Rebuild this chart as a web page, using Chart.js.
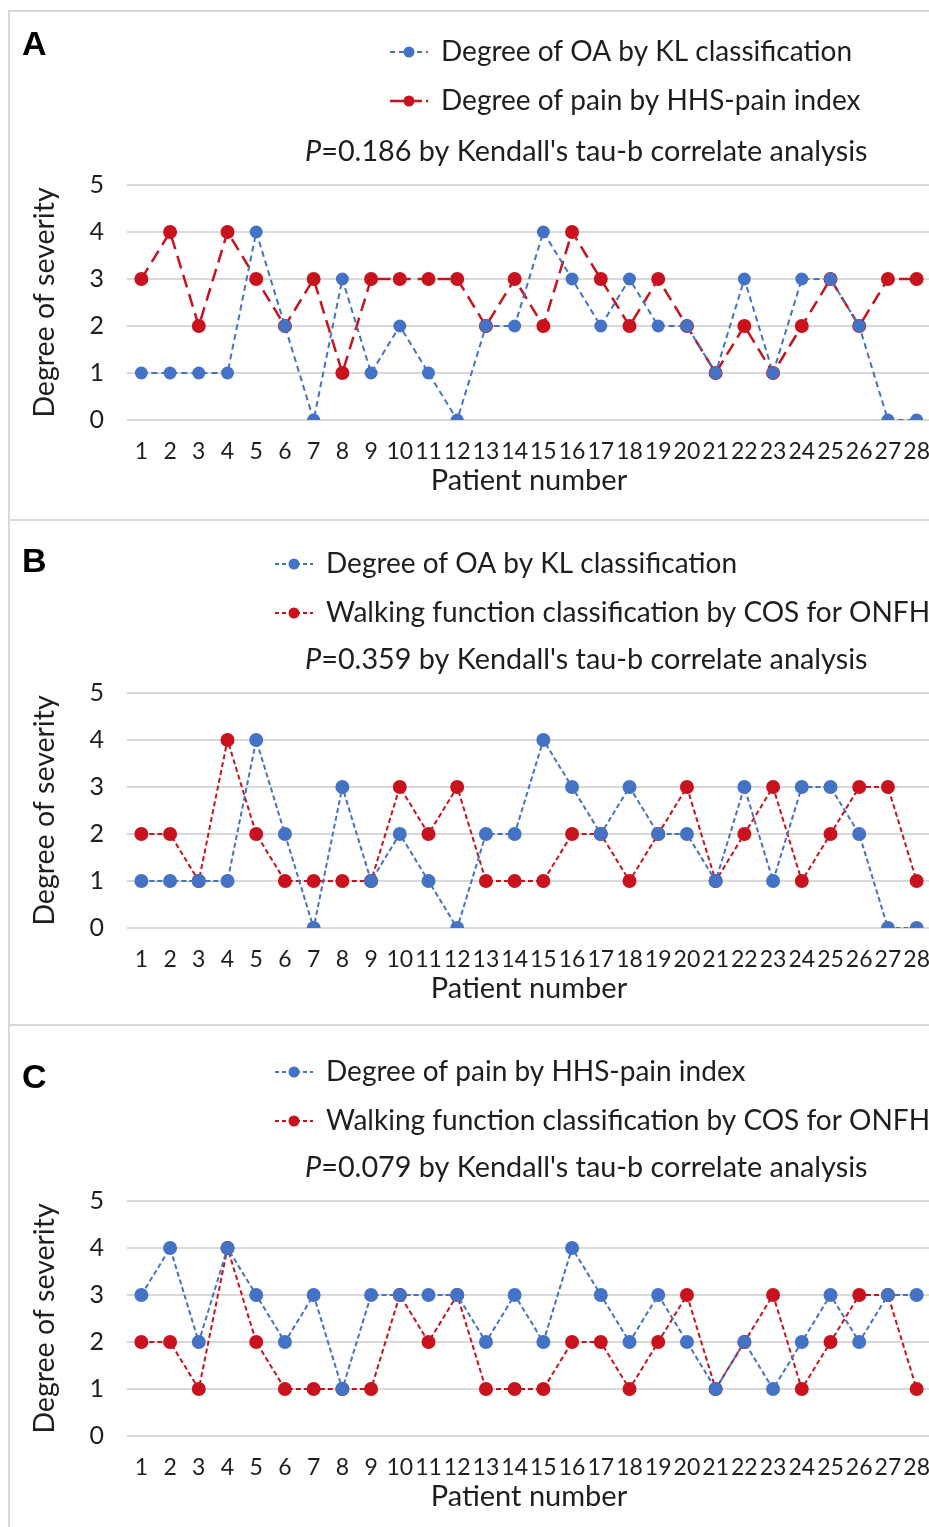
<!DOCTYPE html>
<html><head><meta charset="utf-8">
<script src="https://cdn.jsdelivr.net/npm/chart.js@4.4.1/dist/chart.umd.min.js"></script>
<style>
html,body{margin:0;padding:0;background:#fff;}
#wrap{position:relative;width:929px;height:1527px;overflow:hidden;background:#fff;}
.panel{position:absolute;left:0;width:929px;overflow:hidden;}
.panel canvas{position:absolute;left:0;top:0;}
.frame{position:absolute;background:#d9d9d9;}
</style></head><body>
<div id="wrap">
  <div class="panel" style="top:0;height:520px"><canvas id="cA" width="938" height="520"></canvas></div>
  <div class="panel" style="top:520px;height:506px"><canvas id="cB" width="938" height="506"></canvas></div>
  <div class="panel" style="top:1026px;height:501px"><canvas id="cC" width="938" height="501"></canvas></div>
  <div class="frame" style="left:8px;top:10px;width:2px;height:1517px"></div>
  <div class="frame" style="left:8px;top:10px;width:921px;height:2px"></div>
  <div class="frame" style="left:8px;top:519px;width:921px;height:2px"></div>
  <div class="frame" style="left:8px;top:1024px;width:921px;height:2px"></div>
</div>
<script>
// ---- data ----
const patients = ['1','2','3','4','5','6','7','8','9','10','11','12','13','14','15','16','17','18','19','20','21','22','23','24','25','26','27','28'];
const klGrade    = [1,1,1,1,4,2,0,3,1,2,1,0,2,2,4,3,2,3,2,2,1,3,1,3,3,2,0,0];
const hhsPain    = [3,4,2,4,3,2,3,1,3,3,3,3,2,3,2,4,3,2,3,2,1,2,1,2,3,2,3,3];
const cosWalking = [2,2,1,4,2,1,1,1,1,3,2,3,1,1,1,2,2,1,2,3,1,2,3,1,2,3,3,1];
const yTickMin = 0, yTickMax = 5, yTickStep = 1;
const labelKL = 'Degree of OA by KL classification';
const labelPain = 'Degree of pain by HHS-pain index';
const labelWalk = 'Walking function classification by COS for ONFH';
const pValues = ['0.186','0.359','0.079'];
const panelLetters = ['A','B','C'];

const BLUE = '#4472C4', RED = '#C8121E';
const FONT = 'Lato, "Open Sans", sans-serif';
const TXT = '#1e1e1e';

const decoPlugin = {
  id: 'deco',
  afterDraw(chart, args, o) {
    const ctx = chart.ctx;
    ctx.save();
    ctx.fillStyle = '#000';
    ctx.font = 'bold 34px "Liberation Sans", Arial, sans-serif';
    ctx.textBaseline = 'alphabetic';
    ctx.textAlign = 'left';
    ctx.fillText(o.letter, 22, o.letterY);
    chart.data.datasets.forEach((ds, i) => {
      const y = o.legendY[i];
      ctx.strokeStyle = ds.borderColor;
      ctx.lineWidth = ds.borderWidth;
      ctx.setLineDash(o.sampleDash[i]);
      ctx.beginPath();
      ctx.moveTo(o.sampleX, y);
      ctx.lineTo(o.sampleX + 38, y);
      ctx.stroke();
      ctx.setLineDash([]);
      ctx.fillStyle = ds.pointBackgroundColor;
      ctx.beginPath();
      ctx.arc(o.sampleX + 19, y, 5.5, 0, Math.PI * 2);
      ctx.fill();
      ctx.fillStyle = TXT;
      ctx.font = '28px ' + FONT;
      ctx.textBaseline = 'middle';
      ctx.fillText(ds.label, o.textX, y);
    });
    ctx.fillStyle = TXT;
    ctx.textBaseline = 'middle';
    ctx.font = 'italic 28.8px ' + FONT;
    ctx.fillText('P', o.pX, o.pY);
    const w = ctx.measureText('P').width;
    ctx.font = '28.8px ' + FONT;
    ctx.fillText('=' + o.pValue + " by Kendall's tau-b correlate analysis", o.pX + w, o.pY);
    ctx.restore();
  }
};

function ds(label, data, color, width, dash, radius) {
  return {
    label, data,
    borderColor: color, borderWidth: width, borderDash: dash,
    pointBackgroundColor: color, pointBorderColor: color,
    pointRadius: radius, pointHoverRadius: radius, pointBorderWidth: 0,
    tension: 0, fill: false
  };
}

function makeChart(id, datasets, c) {
  const H = c.H;
  return new Chart(document.getElementById(id), {
    type: 'line',
    data: { labels: patients, datasets },
    options: {
      responsive: false, animation: false,
      layout: { padding: { top: c.chartTop, left: 0, right: 0, bottom: 0 } },
      plugins: { legend: { display: false }, tooltip: { enabled: false }, deco: c.deco },
      scales: {
        x: {
          type: 'category', offset: true,
          grid: { display: false, drawTicks: true, tickLength: 18 }, border: { display: false },
          ticks: { font: { family: FONT, size: 23 }, color: TXT, padding: 0, maxRotation: 0, autoSkip: false },
          title: { display: true, text: 'Patient number', color: TXT, font: { family: FONT, size: 29 },
                   padding: { top: 0, bottom: H - c.titleY - 17.4 } },
          afterFit(s) { s.height = H - c.chartBottom; }
        },
        y: {
          min: yTickMin, max: yTickMax,
          ticks: { stepSize: yTickStep, font: { family: FONT, size: 25 }, color: TXT, padding: 23 },
          grid: { color: '#d9d9d9', lineWidth: 2, drawTicks: false },
          border: { display: false },
          title: { display: true, text: 'Degree of severity', color: TXT, font: { family: FONT, size: 28.5 },
                   padding: { top: 28, bottom: 0 } },
          afterFit(s) { s.width = 127; }
        }
      }
    },
    plugins: [decoPlugin]
  });
}

makeChart('cA', [
  ds(labelKL, klGrade, BLUE, 2, [6, 4], 6.5),
  ds(labelPain, hhsPain, RED, 2.5, [13, 7], 7)
], { H: 520, chartTop: 185, chartBottom: 420, titleY: 481,
     deco: { letter: panelLetters[0], letterY: 55, legendY: [52, 101], sampleX: 390, textX: 441,
             sampleDash: [[5, 4], [14, 4]], pX: 305, pY: 152, pValue: pValues[0] } });

makeChart('cB', [
  ds(labelKL, klGrade, BLUE, 2, [5, 3], 7),
  ds(labelWalk, cosWalking, RED, 2, [5, 3], 7)
], { H: 506, chartTop: 173, chartBottom: 408, titleY: 469,
     deco: { letter: panelLetters[1], letterY: 52, legendY: [44, 93], sampleX: 275, textX: 326,
             sampleDash: [[4, 3], [4, 3]], pX: 305, pY: 140, pValue: pValues[1] } });

makeChart('cC', [
  ds(labelPain, hhsPain, BLUE, 2, [5, 3], 7),
  ds(labelWalk, cosWalking, RED, 2, [5, 3], 7)
], { H: 501, chartTop: 175, chartBottom: 410, titleY: 471,
     deco: { letter: panelLetters[2], letterY: 62, legendY: [46, 95], sampleX: 275, textX: 326,
             sampleDash: [[4, 3], [4, 3]], pX: 305, pY: 142, pValue: pValues[2] } });
</script>
</body></html>
